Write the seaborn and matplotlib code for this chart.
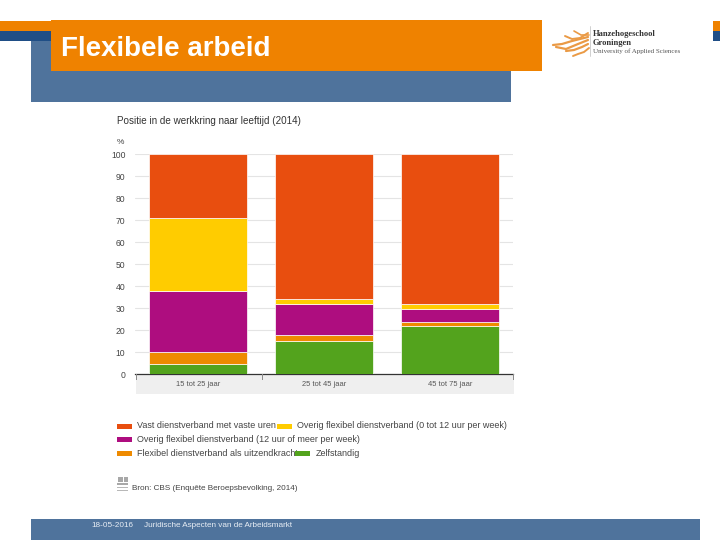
import numpy as np
import pandas as pd
import seaborn as sns
from matplotlib import pyplot as plt
from matplotlib.lines import Line2D
from matplotlib.patches import Rectangle

sns.set_theme(style="white")
plt.rcParams['font.family'] = ['Liberation Sans', 'DejaVu Sans']

W = 720
H = 540

ages = ['15 tot 25 jaar', '25 tot 45 jaar', '45 tot 75 jaar']
zelfstandig = [4.7, 15, 22]
uitzendkracht = [5.3, 2.7, 1.9]
flex_12plus = [27.9, 14, 5.9]
flex_0_12 = [33, 2.5, 2.2]
vast = [29.1, 65.8, 68]

series = [zelfstandig, uitzendkracht, flex_12plus, flex_0_12, vast]
colors = ['#53a31d', '#ee8a00', '#ae0d7f', '#ffcc00', '#e84e0f']

yticks = [0, 10, 20, 30, 40, 50, 60, 70, 80, 90, 100]


def box(fig, x0, y0, x1, y1, color, z=0):
    # pixel coordinates from the top left
    fig.add_artist(Rectangle((x0 / W, 1 - y1 / H), (x1 - x0) / W, (y1 - y0) / H,
                             transform=fig.transFigure, color=color, lw=0, zorder=z))


def stroke(fig, xs, ys, color='#ea9a45', lw=1.6):
    fig.add_artist(Line2D([x / W for x in xs], [1 - y / H for y in ys],
                          transform=fig.transFigure, color=color, lw=lw,
                          solid_capstyle='round', zorder=3))


fig = plt.figure(figsize=(7.2, 5.4), dpi=100)

# slide template
box(fig, 30.5, 40, 510.5, 101.5, '#4f739c', 0)
box(fig, 0, 30.5, 51, 40.5, '#1f4e86', 1)
box(fig, 0, 20.5, 51, 30.5, '#ef8200', 1)
box(fig, 51, 20.5, 541.5, 71, '#ef8200', 2)
box(fig, 712.5, 20.5, 720, 30.5, '#ef8200', 1)
box(fig, 712.5, 30.5, 720, 40.5, '#1f4e86', 1)
box(fig, 30.5, 519, 700, 540, '#4f739c', 0)
fig.text(61 / W, 1 - 48.5 / H, 'Flexibele arbeid', color='white', fontsize=20,
         fontweight='bold', va='center', zorder=5)

# logo
stroke(fig, [553, 562, 572, 588], [45, 44, 41, 37])
stroke(fig, [556, 566, 578, 588], [47, 49, 44, 40])
stroke(fig, [565, 572, 580, 588], [36, 39, 38, 33], lw=1.4)
stroke(fig, [566, 574, 582, 588], [51, 50, 47, 44])
stroke(fig, [573, 578, 584, 589], [56, 54, 52, 48], lw=1.4)
stroke(fig, [574, 581, 589], [31, 35, 35], lw=1.2)
stroke(fig, [590, 590], [26, 56], color='#c9c9c9', lw=0.6)
fig.text(593 / W, 1 - 34.5 / H, 'Hanzehogeschool', family='Liberation Serif', fontsize=6.1,
         fontweight='bold', color='#333333', va='center', zorder=5)
fig.text(593 / W, 1 - 43 / H, 'Groningen', family='Liberation Serif', fontsize=6.1,
         fontweight='bold', color='#333333', va='center', zorder=5)
fig.text(593 / W, 1 - 51.5 / H, 'University of Applied Sciences', family='Liberation Serif',
         fontsize=5, color='#555555', va='center', zorder=5)

# chart
ax = fig.add_axes([135.2 / W, 1 - 374.3 / H, 378 / W, 220.3 / H])
ax.patch.set_alpha(0)
bottom = np.zeros(3)
for vals, col in zip(series, colors):
    df = pd.DataFrame({'leeftijd': ages, 'pct': vals})
    sns.barplot(data=df, x='leeftijd', y='pct', ax=ax, color=col, saturation=1,
                width=0.775, bottom=bottom, edgecolor='white', linewidth=0.5, zorder=3)
    bottom = bottom + np.array(vals)

ax.set_xlim(-0.5, 2.5)
ax.set_ylim(0, 100)
ax.set_xlabel('')
ax.set_ylabel('')
ax.set_yticks(yticks)
ax.yaxis.grid(True, color='#e4e4e4', lw=0.8, zorder=0)
ax.set_axisbelow(True)
ax.tick_params(axis='y', length=0, labelsize=6.2, labelcolor='#444444', pad=7)
ax.tick_params(axis='x', length=0, labelsize=5.4, labelcolor='#555555', pad=5)
sns.despine(ax=ax, left=True, top=True, right=True)
ax.spines['bottom'].set_color('#333333')
ax.spines['bottom'].set_linewidth(0.9)

box(fig, 135.5, 374, 513.5, 394, '#efefef', -1)
for xp in [135.5, 261.5, 513]:
    box(fig, xp, 374, xp + 1, 380, '#8c8c8c', 1)

fig.text(117 / W, 1 - 120.5 / H, 'Positie in de werkkring naar leeftijd (2014)', fontsize=7.1,
         color='#333333', va='center')
fig.text(117 / W, 1 - 142 / H, '%', fontsize=6, color='#444444', va='center')

# legend, placed the way the source lays it out
legend_rows = [
    (117, 426, 137, 'Vast dienstverband met vaste uren', colors[4]),
    (277, 426, 297, 'Overig flexibel dienstverband (0 tot 12 uur per week)', colors[3]),
    (117, 439.5, 137, 'Overig flexibel dienstverband (12 uur of meer per week)', colors[2]),
    (117, 453, 137, 'Flexibel dienstverband als uitzendkracht', colors[1]),
    (295, 453, 316, 'Zelfstandig', colors[0]),
]
for xp, yp, xt, label, col in legend_rows:
    box(fig, xp, yp - 2.5, xp + 14.5, yp + 2.5, col, 3)
    fig.text(xt / W, 1 - yp / H, label, fontsize=6.5, color='#444444', va='center', zorder=2)

# CBS icon
box(fig, 118, 477, 122.5, 482, '#a8a8a8', 1)
box(fig, 123.5, 477, 128, 482, '#a8a8a8', 1)
box(fig, 117, 483, 128, 485, '#a8a8a8', 1)
box(fig, 117, 486.5, 128, 488, '#b8b8b8', 1)
box(fig, 117, 489.5, 128, 491, '#b8b8b8', 1)
fig.text(132 / W, 1 - 488 / H, 'Bron: CBS (Enquête Beroepsbevolking, 2014)', fontsize=5.9,
         color='#444444', va='center')

# footer
fig.text(91 / W, 1 - 525.5 / H, '18-05-2016', fontsize=5.9, color='#e8eef5', va='center', zorder=5)
fig.text(144 / W, 1 - 525.5 / H, 'Juridische Aspecten van de Arbeidsmarkt', fontsize=5.9,
         color='#e8eef5', va='center', zorder=5)

fig.savefig('out.png', dpi=100)
